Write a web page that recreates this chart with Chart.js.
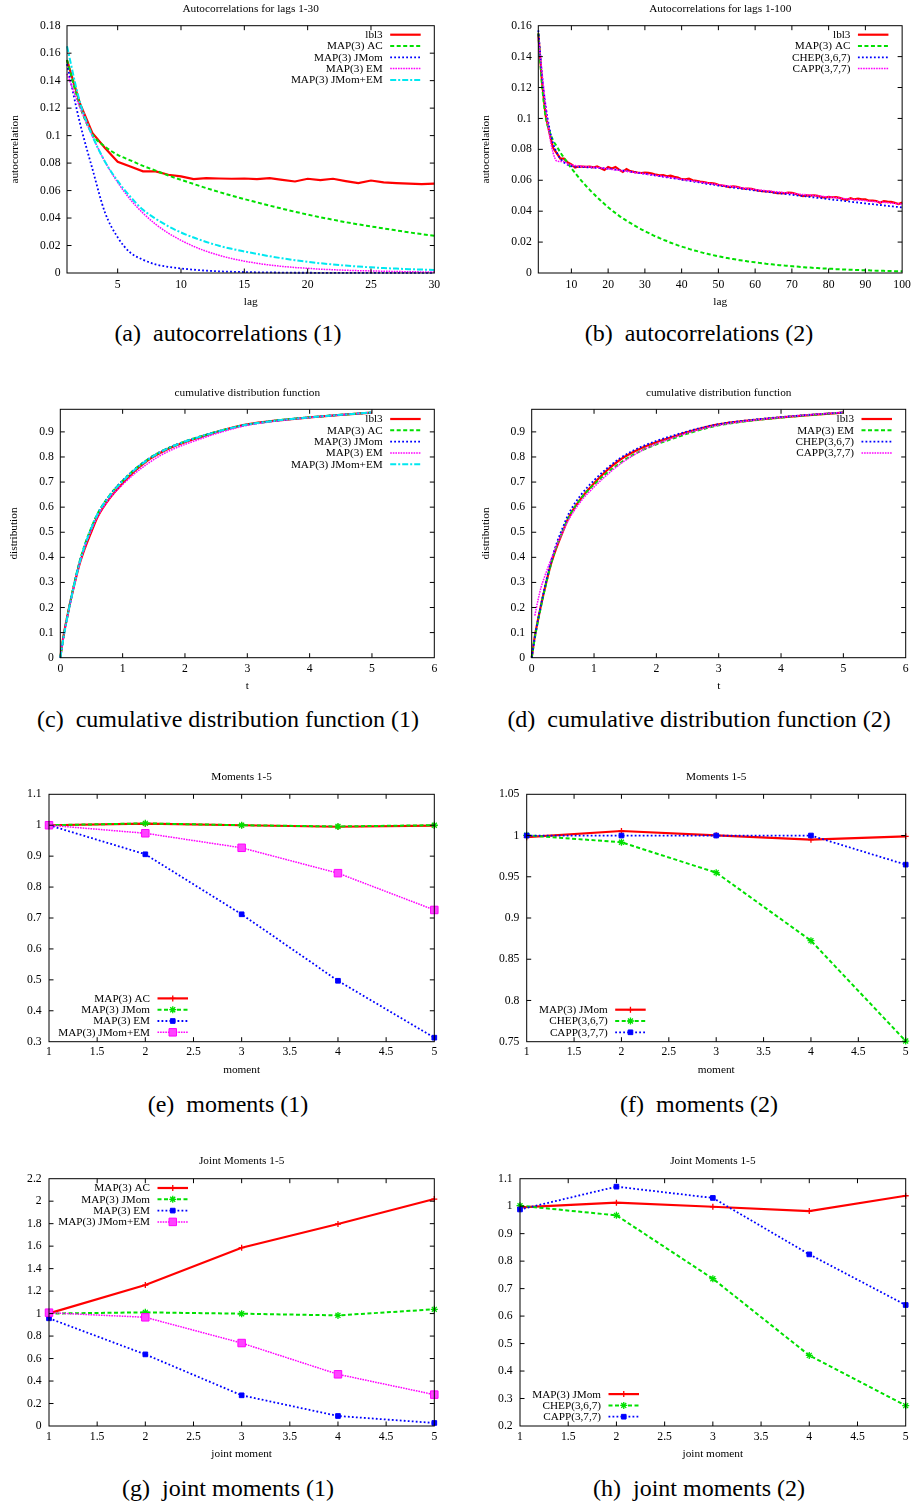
<!DOCTYPE html>
<html>
<head>
<meta charset="utf-8">
<script src="https://cdn.jsdelivr.net/npm/chart.js@4/dist/chart.umd.min.js"></script>
<style>
  html, body { margin: 0; padding: 0; background: #fff; }
  #fig { position: relative; width: 916px; height: 1504px; overflow: hidden; }
  #fig canvas { position: absolute; }
  .cap { position: absolute; width: 456px; text-align: center; white-space: nowrap;
         font: 24px "Liberation Serif", "Times New Roman", serif; line-height: 28px; color: #000; }
</style>
</head>
<body>
<div id="fig">
  <canvas id="pa" width="460" height="315" style="left:0;top:0"></canvas>
  <canvas id="pb" width="456" height="315" style="left:460px;top:0"></canvas>
  <canvas id="pc" width="460" height="315" style="left:0;top:385px"></canvas>
  <canvas id="pd" width="456" height="315" style="left:460px;top:385px"></canvas>
  <canvas id="pe" width="460" height="315" style="left:0;top:765px"></canvas>
  <canvas id="pf" width="456" height="315" style="left:460px;top:765px"></canvas>
  <canvas id="pg" width="460" height="315" style="left:0;top:1150px"></canvas>
  <canvas id="ph" width="456" height="315" style="left:460px;top:1150px"></canvas>

  <div class="cap" style="left:0;top:319px">(a)&ensp;autocorrelations (1)</div>
  <div class="cap" style="left:471px;top:319px">(b)&ensp;autocorrelations (2)</div>
  <div class="cap" style="left:0;top:705px">(c)&ensp;cumulative distribution function (1)</div>
  <div class="cap" style="left:471px;top:705px">(d)&ensp;cumulative distribution function (2)</div>
  <div class="cap" style="left:0;top:1090px">(e)&ensp;moments (1)</div>
  <div class="cap" style="left:471px;top:1090px">(f)&ensp;moments (2)</div>
  <div class="cap" style="left:0;top:1474px">(g)&ensp;joint moments (1)</div>
  <div class="cap" style="left:471px;top:1474px">(h)&ensp;joint moments (2)</div>
</div>

<script>
// ---------- lags ----------
const lags = [1,2,3,4,5,6,7,8,9,10,11,12,13,14,15,16,17,18,19,20,
  21,22,23,24,25,26,27,28,29,30,31,32,33,34,35,36,37,38,39,40,
  41,42,43,44,45,46,47,48,49,50,51,52,53,54,55,56,57,58,59,60,
  61,62,63,64,65,66,67,68,69,70,71,72,73,74,75,76,77,78,79,80,
  81,82,83,84,85,86,87,88,89,90,91,92,93,94,95,96,97,98,99,100];

// ---------- autocorrelations ----------
const acfLbl3 = [0.155,0.124,0.102,0.091,0.081,0.0775,0.074,0.074,0.0715,0.0703,
  0.0683,0.069,0.0688,0.0686,0.0688,0.0683,0.069,0.0678,0.0666,0.0686,
  0.0676,0.0686,0.0669,0.0654,0.0673,0.0659,0.0654,0.065,0.0647,0.065,
  0.0648,0.0644,0.0636,0.0632,0.0634,0.0626,0.063,0.0622,0.0618,0.0607,
  0.0606,0.061,0.06,0.0597,0.0592,0.0588,0.0584,0.0582,0.0578,0.057,
  0.0566,0.0562,0.0556,0.056,0.0558,0.0551,0.0545,0.0546,0.0544,0.0538,
  0.0533,0.053,0.0528,0.0527,0.0522,0.0516,0.0518,0.0515,0.052,0.0519,
  0.0512,0.0505,0.0498,0.0502,0.0501,0.0503,0.0499,0.0492,0.0488,0.0492,
  0.049,0.0491,0.0486,0.0478,0.0474,0.0484,0.0476,0.0481,0.0476,0.0477,
  0.0468,0.0469,0.0466,0.0455,0.0465,0.0462,0.046,0.0454,0.0446,0.0456];

const acfMapAc = [0.155,0.122,0.101,0.092,0.086,0.082,0.078,0.0745,0.071,0.0678,
  0.0648,0.0618,0.059,0.0563,0.0538,0.0514,0.049,0.0468,0.0446,0.0425,
  0.0406,0.0388,0.037,0.0354,0.0339,0.0324,0.031,0.0296,0.0283,0.0271,
  0.0259,0.0247,0.0236,0.0226,0.0215,0.0206,0.0196,0.0188,0.0179,0.0171,
  0.0164,0.0156,0.0149,0.0143,0.0136,0.013,0.0124,0.0119,0.0113,0.0108,
  0.0103,0.0099,0.0094,0.009,0.0086,0.0082,0.0079,0.0075,0.0072,0.0069,
  0.0066,0.0063,0.006,0.0057,0.0055,0.0052,0.005,0.0048,0.0046,0.0044,
  0.0042,0.004,0.0038,0.0036,0.0035,0.0033,0.0032,0.003,0.0029,0.0028,
  0.0027,0.0025,0.0024,0.0023,0.0022,0.0021,0.002,0.0019,0.0018,0.0018,
  0.0017,0.0016,0.0015,0.0015,0.0014,0.0013,0.0013,0.0012,0.0012,0.0011];

const acfJMom = [0.152,0.11,0.076,0.044,0.026,0.0148,0.0097,0.0062,0.0045,0.0033,
  0.0024,0.0017,0.0012,0.0009,0.0007,0.0005,0.0004,0.0003,0.0002,0.0002,
  0.0001,0.0001,0.0001,0.0001,0.0001,0.0001,0.0001,0.0001,0.0001,0.0001];

const acfEm = [0.145,0.121,0.0995,0.081,0.066,0.0535,0.0436,0.0355,0.029,0.0238,
  0.0194,0.0158,0.0129,0.0105,0.0086,0.0071,0.0058,0.0048,0.004,0.0034,
  0.0028,0.0024,0.002,0.0017,0.0015,0.0013,0.0011,0.0009,0.0008,0.0007];

const acfJMomEm = [0.165,0.125,0.1,0.081,0.067,0.0555,0.046,0.0395,0.034,0.0295,
  0.0258,0.0226,0.0198,0.0176,0.0157,0.0139,0.0122,0.0107,0.0093,0.0081,
  0.0071,0.0062,0.0054,0.0047,0.0041,0.0036,0.0032,0.0028,0.0025,0.0022];

const acfChep = [0.157,0.128,0.108,0.094,0.084,0.078,0.074,0.0715,0.07,0.0692,
  0.0688,0.0686,0.0685,0.0684,0.0683,0.0682,0.068,0.0679,0.0677,0.0675,
  0.0672,0.0669,0.0666,0.0663,0.0659,0.0656,0.0652,0.0649,0.0645,0.0642,
  0.0638,0.0634,0.0631,0.0627,0.0623,0.0619,0.0615,0.0612,0.0608,0.0604,
  0.06,0.0596,0.0593,0.0589,0.0585,0.0581,0.0577,0.0574,0.057,0.0566,
  0.0563,0.056,0.0556,0.0553,0.055,0.0547,0.0544,0.054,0.0537,0.0534,
  0.0531,0.0528,0.0526,0.0523,0.052,0.0517,0.0514,0.0512,0.0509,0.0506,
  0.0503,0.05,0.0498,0.0495,0.0492,0.0489,0.0486,0.0484,0.0481,0.0478,
  0.0475,0.0472,0.047,0.0467,0.0464,0.0461,0.0458,0.0456,0.0453,0.045,
  0.0447,0.0445,0.0442,0.044,0.0437,0.0434,0.0432,0.0429,0.0427,0.0424];

const acfCapp = [0.153,0.13,0.108,0.09,0.078,0.0725,0.0722,0.0722,0.0705,0.07,
  0.0695,0.0692,0.069,0.0688,0.0686,0.0684,0.0682,0.068,0.0677,0.0674,
  0.067,0.0667,0.0664,0.0661,0.0658,0.0655,0.0651,0.0648,0.0645,0.0642,
  0.0638,0.0635,0.0631,0.0628,0.0624,0.0621,0.0617,0.0614,0.061,0.0606,
  0.0603,0.0599,0.0596,0.0592,0.0589,0.0585,0.0582,0.0578,0.0575,0.0571,
  0.0568,0.0565,0.0562,0.0559,0.0556,0.0552,0.0549,0.0546,0.0543,0.054,
  0.0537,0.0535,0.0532,0.053,0.0527,0.0525,0.0522,0.052,0.0517,0.0515,
  0.0513,0.051,0.0508,0.0506,0.0504,0.0501,0.0499,0.0497,0.0494,0.0492,
  0.049,0.0487,0.0485,0.0482,0.048,0.0478,0.0475,0.0473,0.047,0.0468,
  0.0466,0.0463,0.0461,0.0459,0.0457,0.0455,0.0452,0.045,0.0448,0.0446];

// ---------- cumulative distribution ----------
const tGrid = [0,0.05,0.1,0.15,0.2,0.3,0.4,0.5,0.6,0.8,1.0,1.2,1.4,1.6,1.8,2.0,2.25,2.5,2.75,3.0,3.5,4.0,4.5,5.0];
const cdfLbl3   = [0,0.085,0.15,0.21,0.265,0.365,0.44,0.503,0.562,0.638,0.695,0.745,0.786,0.816,0.84,0.859,0.879,0.899,0.916,0.93,0.946,0.958,0.968,0.977];
const cdfMapAc  = [0,0.08,0.148,0.21,0.27,0.375,0.455,0.52,0.575,0.65,0.705,0.752,0.79,0.82,0.843,0.862,0.882,0.9,0.916,0.929,0.946,0.958,0.968,0.977];
const cdfJMom   = [0,0.08,0.147,0.208,0.268,0.372,0.453,0.518,0.574,0.65,0.706,0.752,0.79,0.82,0.843,0.862,0.882,0.9,0.916,0.929,0.946,0.958,0.968,0.977];
const cdfEm     = [0,0.078,0.145,0.205,0.262,0.365,0.445,0.508,0.563,0.637,0.69,0.735,0.773,0.805,0.83,0.85,0.872,0.893,0.911,0.926,0.944,0.957,0.968,0.977];
const cdfJMomEm = [0,0.078,0.145,0.207,0.265,0.37,0.452,0.517,0.573,0.648,0.703,0.75,0.788,0.818,0.842,0.861,0.881,0.9,0.916,0.929,0.946,0.958,0.968,0.978];
const cdfChep   = [0,0.082,0.15,0.212,0.27,0.375,0.456,0.52,0.577,0.652,0.707,0.753,0.792,0.822,0.845,0.864,0.884,0.902,0.918,0.931,0.947,0.959,0.969,0.977];
const cdfCapp   = [null,0.168,0.228,0.28,0.318,0.385,0.448,0.503,0.553,0.627,0.68,0.727,0.768,0.802,0.83,0.852,0.875,0.896,0.913,0.927,0.945,0.958,0.969,0.978];

// ---------- moments and joint moments (relative to trace) ----------
const momentIdx = [1,2,3,4,5];
const momAc     = [1.0,1.005,1.0,0.995,0.999];
const momJMom   = [1.0,1.006,1.0,0.996,1.0];
const momEm     = [1.0,0.906,0.712,0.497,0.313];
const momJMomEm = [1.0,0.974,0.927,0.845,0.726];
const mom2JMom  = [0.998,1.0055,1.0003,0.995,0.999];
const mom2Chep  = [1.0003,0.9918,0.955,0.8725,0.7508];
const mom2Capp  = [1.0,1.0,1.0,1.0,0.9647];

const jmAc      = [1.002,1.254,1.586,1.797,2.019];
const jmJMom    = [1.0,1.011,0.999,0.984,1.038];
const jmEm      = [0.958,0.637,0.273,0.089,0.027];
const jmJMomEm  = [1.008,0.967,0.738,0.46,0.279];
const jm2JMom   = [0.996,1.0127,0.998,0.982,1.038];
const jm2Chep   = [1.0017,0.9666,0.736,0.457,0.274];
const jm2Capp   = [0.988,1.071,1.03,0.8246,0.6403];

// ---------- tick values ----------
const ticksLag30  = [5,10,15,20,25,30];
const ticksLag100 = [10,20,30,40,50,60,70,80,90,100];
const ticksAcf18  = [0,0.02,0.04,0.06,0.08,0.1,0.12,0.14,0.16,0.18];
const ticksAcf16  = [0,0.02,0.04,0.06,0.08,0.1,0.12,0.14,0.16];
const ticksT      = [0,1,2,3,4,5,6];
const ticksDist   = [0,0.1,0.2,0.3,0.4,0.5,0.6,0.7,0.8,0.9];
const ticksMoment = [1,1.5,2,2.5,3,3.5,4,4.5,5];
const ticksMom1   = [0.3,0.4,0.5,0.6,0.7,0.8,0.9,1,1.1];
const ticksMom2   = [0.75,0.8,0.85,0.9,0.95,1,1.05];
const ticksJm1    = [0,0.2,0.4,0.6,0.8,1,1.2,1.4,1.6,1.8,2,2.2];
const ticksJm2    = [0.2,0.3,0.4,0.5,0.6,0.7,0.8,0.9,1,1.1];

// ---------- styles ----------
const SERIF = '"Liberation Serif", "Times New Roman", serif';
const LINE = {
  red:     { color: '#ff0000', width: 2.2, dash: [] },
  green:   { color: '#00e000', width: 2,   dash: [4, 2.5] },
  blue:    { color: '#0000ff', width: 1.8, dash: [1.8, 2.2] },
  magenta: { color: '#ff00ff', width: 1.5, dash: [1.6, 1] },
  cyan:    { color: '#00e8f0', width: 2,   dash: [6, 2, 2, 2] }
};
const MARK = {
  plus:   { style: 'cross', r: 3,   bw: 1.3 },
  star:   { style: 'star',  r: 3.5, bw: 1.3 },
  square: { style: 'rect',  r: 3.3, bw: 1 },
  bigsq:  { style: 'rect',  r: 5.3, bw: 1, fill: '#ff44ff' }
};

function pts(xs, ys) { return xs.map((x, i) => ({ x: x, y: ys[i] })); }
function fmt(v) { return String(+v.toFixed(4)); }

// frame, inward tick marks, title and key, drawn in gnuplot fashion
const framePlugin = {
  id: 'frame',
  afterDatasetsDraw(chart, args, o) {
    const { ctx, chartArea: a, scales: { x, y } } = chart;
    ctx.save();
    ctx.strokeStyle = '#000';
    ctx.lineWidth = 1;
    ctx.setLineDash([]);
    const tl = 4.5;
    ctx.beginPath();
    x.ticks.forEach(t => {
      const px = x.getPixelForValue(t.value);
      if (px <= a.left + 0.5 || px >= a.right - 0.5) return;
      ctx.moveTo(px, a.bottom); ctx.lineTo(px, a.bottom - tl);
      ctx.moveTo(px, a.top); ctx.lineTo(px, a.top + tl);
    });
    y.ticks.forEach(t => {
      const py = y.getPixelForValue(t.value);
      if (py <= a.top + 0.5 || py >= a.bottom - 0.5) return;
      ctx.moveTo(a.left, py); ctx.lineTo(a.left + tl, py);
      ctx.moveTo(a.right, py); ctx.lineTo(a.right - tl, py);
    });
    ctx.stroke();
    ctx.strokeRect(a.left, a.top, a.right - a.left, a.bottom - a.top);

    // title
    ctx.fillStyle = '#000';
    ctx.font = '11.3px ' + SERIF;
    ctx.textAlign = 'center';
    ctx.textBaseline = 'middle';
    ctx.fillText(o.title, (a.left + a.right) / 2, a.top - o.titleGap);

    // key
    const k = o.key, n = chart.data.datasets.length, step = 11.3;
    const X = k.anchor === 'tr' ? a.right - k.dx : a.left + k.dx;
    const y0 = k.anchor === 'bl' ? a.bottom - k.dy - (n - 1) * step : a.top + k.dy;
    ctx.font = '11.2px ' + SERIF;
    chart.data.datasets.forEach((ds, i) => {
      const yy = y0 + i * step;
      ctx.fillStyle = '#000';
      ctx.textAlign = 'right';
      ctx.fillText(ds.label, X, yy + 0.5);
      ctx.strokeStyle = ds.borderColor;
      ctx.lineWidth = ds.borderWidth;
      ctx.setLineDash(ds.borderDash);
      ctx.beginPath(); ctx.moveTo(X + 7.5, yy); ctx.lineTo(X + 38, yy); ctx.stroke();
      ctx.setLineDash([]);
      if (ds.pointRadius > 0) {
        ctx.fillStyle = ds.pointBackgroundColor;
        ctx.lineWidth = ds.pointBorderWidth;
        Chart.helpers.drawPoint(ctx, { pointStyle: ds.pointStyle, radius: ds.pointRadius,
          borderWidth: ds.pointBorderWidth, rotation: 0 }, X + 22.75, yy);
      }
    });
    ctx.restore();
  }
};

function makeChart(id, p) {
  const datasets = p.series.map((s, i) => {
    const L = LINE[s.line], M = s.mark ? MARK[s.mark] : null;
    return {
      label: s.label,
      data: pts(s.xs, s.ys),
      order: -i,
      borderColor: L.color,
      backgroundColor: L.color,
      borderWidth: L.width,
      borderDash: L.dash,
      pointRadius: M ? M.r : 0,
      pointStyle: M ? M.style : 'circle',
      pointBackgroundColor: M ? (M.fill || L.color) : L.color,
      pointBorderColor: L.color,
      pointBorderWidth: M ? M.bw : 0,
      cubicInterpolationMode: s.smooth ? 'monotone' : 'default',
      tension: 0,
      fill: false,
      spanGaps: true,
      clip: false
    };
  });
  const axis = (ax, isX) => ({
    type: 'linear',
    min: ax.min, max: ax.max,
    grid: { display: false, drawTicks: false },
    border: { display: false },
    afterBuildTicks: sc => { sc.ticks = ax.ticks.map(v => ({ value: v })); },
    afterFit: sc => { if (isX) sc.height = p.box.xh; else sc.width = p.box.yw; },
    ticks: { autoSkip: false, maxRotation: 0, padding: ax.pad, color: '#000',
             font: { family: SERIF, size: 11.7 }, callback: v => fmt(v) },
    title: ax.title ? { display: true, text: ax.title, color: '#000',
             font: { family: SERIF, size: 11.3 },
             padding: isX ? { top: 0, bottom: ax.tpad } : { top: ax.tpad, bottom: 0 } }
           : { display: false }
  });
  return new Chart(document.getElementById(id), {
    type: 'line',
    data: { datasets: datasets },
    options: {
      responsive: false,
      animation: false,
      events: [],
      layout: { padding: { top: p.box.pt, right: p.box.pr, bottom: 0, left: 0 } },
      scales: { x: axis(p.x, true), y: axis(p.y, false) },
      plugins: {
        legend: { display: false },
        tooltip: { enabled: false },
        frame: { title: p.title, titleGap: p.titleGap, key: p.key }
      }
    },
    plugins: [framePlugin]
  });
}

const lags30 = lags.slice(0, 30);

makeChart('pa', {
  box: { pt: 25.7, yw: 67, pr: 25.7, xh: 42 },
  x: { min: 1, max: 30, ticks: ticksLag30, pad: 5.1, title: 'lag', tpad: 6.4 },
  y: { min: 0, max: 0.18, ticks: ticksAcf18, pad: 6.5, title: 'autocorrelation', tpad: 8.4 },
  title: 'Autocorrelations for lags 1-30', titleGap: 16.4,
  key: { anchor: 'tr', dx: 51.6, dy: 9 },
  series: [
    { label: 'lbl3', line: 'red', xs: lags30, ys: acfLbl3.slice(0, 30) },
    { label: 'MAP(3) AC', line: 'green', xs: lags30, ys: acfMapAc.slice(0, 30), smooth: true },
    { label: 'MAP(3) JMom', line: 'blue', xs: lags30, ys: acfJMom, smooth: true },
    { label: 'MAP(3) EM', line: 'magenta', xs: lags30, ys: acfEm, smooth: true },
    { label: 'MAP(3) JMom+EM', line: 'cyan', xs: lags30, ys: acfJMomEm, smooth: true }
  ]
});

makeChart('pb', {
  box: { pt: 25.7, yw: 78.3, pr: 10.3, xh: 42 },
  x: { min: 1, max: 100, ticks: ticksLag100, pad: 5.1, title: 'lag', tpad: 6.4 },
  y: { min: 0, max: 0.16, ticks: ticksAcf16, pad: 6.5, title: 'autocorrelation', tpad: 19.4 },
  title: 'Autocorrelations for lags 1-100', titleGap: 16.4,
  key: { anchor: 'tr', dx: 51.7, dy: 9 },
  series: [
    { label: 'lbl3', line: 'red', xs: lags, ys: acfLbl3 },
    { label: 'MAP(3) AC', line: 'green', xs: lags, ys: acfMapAc, smooth: true },
    { label: 'CHEP(3,6,7)', line: 'blue', xs: lags, ys: acfChep, smooth: true },
    { label: 'CAPP(3,7,7)', line: 'magenta', xs: lags, ys: acfCapp, smooth: true }
  ]
});

makeChart('pc', {
  box: { pt: 24.3, yw: 60.3, pr: 25.7, xh: 42.3 },
  x: { min: 0, max: 6, ticks: ticksT, pad: 4.7, title: 't', tpad: 6.7 },
  y: { min: 0, max: 0.99, ticks: ticksDist, pad: 6.5, title: 'distribution', tpad: 7.4 },
  title: 'cumulative distribution function', titleGap: 16,
  key: { anchor: 'tr', dx: 51.6, dy: 9.7 },
  series: [
    { label: 'lbl3', line: 'red', xs: tGrid, ys: cdfLbl3, smooth: true },
    { label: 'MAP(3) AC', line: 'green', xs: tGrid, ys: cdfMapAc, smooth: true },
    { label: 'MAP(3) JMom', line: 'blue', xs: tGrid, ys: cdfJMom, smooth: true },
    { label: 'MAP(3) EM', line: 'magenta', xs: tGrid, ys: cdfEm, smooth: true },
    { label: 'MAP(3) JMom+EM', line: 'cyan', xs: tGrid, ys: cdfJMomEm, smooth: true }
  ]
});

makeChart('pd', {
  box: { pt: 24.3, yw: 71.7, pr: 10.3, xh: 42.3 },
  x: { min: 0, max: 6, ticks: ticksT, pad: 4.7, title: 't', tpad: 6.7 },
  y: { min: 0, max: 0.99, ticks: ticksDist, pad: 6.5, title: 'distribution', tpad: 19.1 },
  title: 'cumulative distribution function', titleGap: 16,
  key: { anchor: 'tr', dx: 51.7, dy: 9.7 },
  series: [
    { label: 'lbl3', line: 'red', xs: tGrid, ys: cdfLbl3, smooth: true },
    { label: 'MAP(3) EM', line: 'green', xs: tGrid, ys: cdfEm, smooth: true },
    { label: 'CHEP(3,6,7)', line: 'blue', xs: tGrid, ys: cdfChep, smooth: true },
    { label: 'CAPP(3,7,7)', line: 'magenta', xs: tGrid, ys: cdfCapp, smooth: true }
  ]
});

makeChart('pe', {
  box: { pt: 29.3, yw: 49, pr: 25.7, xh: 38.3 },
  x: { min: 1, max: 5, ticks: ticksMoment, pad: 3.7, title: 'moment', tpad: 3.4 },
  y: { min: 0.3, max: 1.1, ticks: ticksMom1, pad: 7.3 },
  title: 'Moments 1-5', titleGap: 17,
  key: { anchor: 'bl', dx: 101, dy: 9.4 },
  series: [
    { label: 'MAP(3) AC', line: 'red', mark: 'plus', xs: momentIdx, ys: momAc },
    { label: 'MAP(3) JMom', line: 'green', mark: 'star', xs: momentIdx, ys: momJMom },
    { label: 'MAP(3) EM', line: 'blue', mark: 'square', xs: momentIdx, ys: momEm },
    { label: 'MAP(3) JMom+EM', line: 'magenta', mark: 'bigsq', xs: momentIdx, ys: momJMomEm }
  ]
});

makeChart('pf', {
  box: { pt: 29.3, yw: 66.7, pr: 10.3, xh: 38.3 },
  x: { min: 1, max: 5, ticks: ticksMoment, pad: 3.7, title: 'moment', tpad: 3.4 },
  y: { min: 0.75, max: 1.05, ticks: ticksMom2, pad: 7.3 },
  title: 'Moments 1-5', titleGap: 17,
  key: { anchor: 'bl', dx: 81, dy: 9.4 },
  series: [
    { label: 'MAP(3) JMom', line: 'red', mark: 'plus', xs: momentIdx, ys: mom2JMom },
    { label: 'CHEP(3,6,7)', line: 'green', mark: 'star', xs: momentIdx, ys: mom2Chep },
    { label: 'CAPP(3,7,7)', line: 'blue', mark: 'square', xs: momentIdx, ys: mom2Capp }
  ]
});

makeChart('pg', {
  box: { pt: 28.7, yw: 49, pr: 25.7, xh: 39 },
  x: { min: 1, max: 5, ticks: ticksMoment, pad: 4.4, title: 'joint moment', tpad: 4.4 },
  y: { min: 0, max: 2.2, ticks: ticksJm1, pad: 7.3 },
  title: 'Joint Moments 1-5', titleGap: 17.4,
  key: { anchor: 'tl', dx: 101, dy: 9.3 },
  series: [
    { label: 'MAP(3) AC', line: 'red', mark: 'plus', xs: momentIdx, ys: jmAc },
    { label: 'MAP(3) JMom', line: 'green', mark: 'star', xs: momentIdx, ys: jmJMom },
    { label: 'MAP(3) EM', line: 'blue', mark: 'square', xs: momentIdx, ys: jmEm },
    { label: 'MAP(3) JMom+EM', line: 'magenta', mark: 'bigsq', xs: momentIdx, ys: jmJMomEm }
  ]
});

makeChart('ph', {
  box: { pt: 28.7, yw: 60, pr: 10.3, xh: 39 },
  x: { min: 1, max: 5, ticks: ticksMoment, pad: 4.4, title: 'joint moment', tpad: 4.4 },
  y: { min: 0.2, max: 1.1, ticks: ticksJm2, pad: 7.3 },
  title: 'Joint Moments 1-5', titleGap: 17.4,
  key: { anchor: 'bl', dx: 81, dy: 9.3 },
  series: [
    { label: 'MAP(3) JMom', line: 'red', mark: 'plus', xs: momentIdx, ys: jm2JMom },
    { label: 'CHEP(3,6,7)', line: 'green', mark: 'star', xs: momentIdx, ys: jm2Chep },
    { label: 'CAPP(3,7,7)', line: 'blue', mark: 'square', xs: momentIdx, ys: jm2Capp }
  ]
});
</script>
</body>
</html>
